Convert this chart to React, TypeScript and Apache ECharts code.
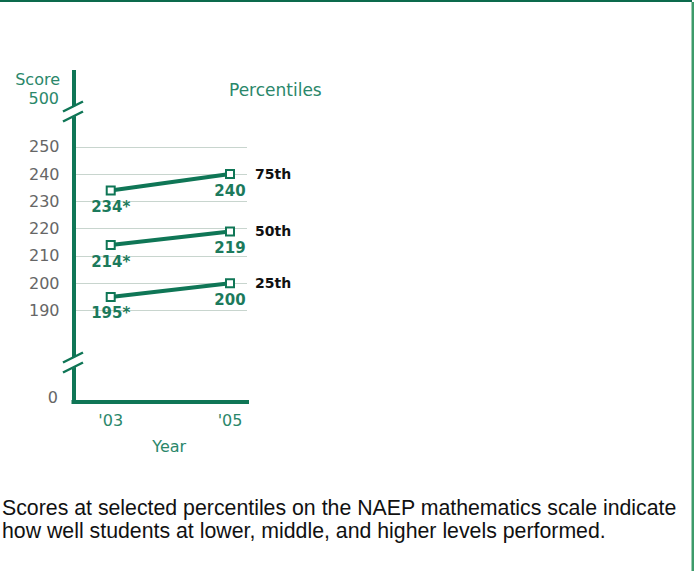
import React, { useEffect, useRef } from 'react';
import * as echarts from 'echarts';

// ---- data ----
const years = [2003, 2005];
const seriesNames = ['75th', '50th', '25th'];
const p75 = [234, 240];
const p50 = [214, 219];
const p25 = [195, 200];
const sigMarks = ['*', '']; // * significantly different from 2005
const yTicks = [190, 200, 210, 220, 230, 240, 250];
const xTicks = [2003, 2005];
const captionLines = [
  'Scores at selected percentiles on the NAEP mathematics scale indicate',
  'how well students at lower, middle, and higher levels performed.',
];

const F = '"DejaVu Sans", sans-serif';
const GREEN = '#0f7656';
const TEXT_GREEN = '#2a876a';
const LABEL_GREEN = '#1c7a5c';
const GRAY = '#666666';

function makeBreak(cy: number) {
  return [
    {
      type: 'polygon',
      z: 100,
      shape: { points: [[64, cy - 0.5], [83, cy - 9.5], [83, cy + 0.5], [64, cy + 9.5]] },
      style: { fill: '#ffffff' },
    },
    {
      type: 'line',
      z: 101,
      shape: { x1: 63, y1: cy - 0.5, x2: 83, y2: cy - 10.5 },
      style: { stroke: GREEN, lineWidth: 2.5 },
    },
    {
      type: 'line',
      z: 101,
      shape: { x1: 63, y1: cy + 9.5, x2: 83, y2: cy - 0.5 },
      style: { stroke: GREEN, lineWidth: 2.5 },
    },
  ];
}

export default function App() {
  const ref = useRef<HTMLDivElement>(null);

  useEffect(() => {
    if (!ref.current) return;
    const chart = echarts.init(ref.current, null, { renderer: 'svg' });

    const mk = (name: string, vals: number[]) => ({
      type: 'line',
      name,
      data: years.map((y, i) => [y, vals[i]]),
      symbol: 'rect',
      symbolSize: 8,
      itemStyle: { color: '#ffffff', borderColor: GREEN, borderWidth: 2 },
      lineStyle: { color: GREEN, width: 4 },
      label: {
        show: true,
        position: 'bottom',
        distance: 4,
        color: LABEL_GREEN,
        fontFamily: F,
        fontWeight: 'bold',
        fontSize: 15,
        formatter: (p: any) => String(p.value[1]) + sigMarks[p.dataIndex],
      },
      endLabel: {
        show: true,
        formatter: '{a}',
        distance: 25,
        color: '#111111',
        fontFamily: F,
        fontWeight: 'bold',
        fontSize: 14,
      },
      z: 3,
    });

    const option: any = {
      animation: false,
      grid: {
        left: 73.5,
        top: 72,
        width: 173.5,
        height: 330,
        containLabel: false,
        outerBoundsMode: 'none',
      },
      xAxis: {
        type: 'value',
        min: 2002.376,
        max: 2005.285,
        axisLine: { show: true, lineStyle: { color: GREEN, width: 4, cap: 'square' } },
        axisTick: { show: false, customValues: xTicks },
        splitLine: { show: false },
        axisLabel: {
          customValues: xTicks,
          margin: 10,
          color: TEXT_GREEN,
          fontFamily: F,
          fontSize: 16,
          formatter: (v: number) => "'" + String(v).slice(2),
        },
        name: 'Year',
        nameLocation: 'middle',
        nameGap: 36,
        nameTextStyle: { color: TEXT_GREEN, fontFamily: F, fontSize: 16, padding: [0, 0, 0, 18] },
      },
      yAxis: {
        type: 'value',
        min: 156.5,
        max: 277.4,
        axisLine: { show: true, lineStyle: { color: GREEN, width: 4, cap: 'square' } },
        axisTick: { show: false, customValues: yTicks },
        splitLine: { show: true, lineStyle: { color: '#c8d5ce', width: 1 } },
        axisLabel: {
          customValues: yTicks,
          margin: 14,
          color: GRAY,
          fontFamily: F,
          fontSize: 16,
        },
      },
      series: [mk(seriesNames[0], p75), mk(seriesNames[1], p50), mk(seriesNames[2], p25)],
      graphic: [
        // frame
        { type: 'rect', z: 100, shape: { x: 0, y: 0, width: 692, height: 2 }, style: { fill: '#0c6a4c' } },
        { type: 'rect', z: 100, shape: { x: 691.5, y: 2, width: 2.5, height: 569 }, style: { fill: '#3d9b6b' } },
        // axis break marks
        ...makeBreak(112),
        ...makeBreak(363),
        // y-axis annotations
        {
          type: 'text', z: 100, x: 60, y: 79,
          style: { text: 'Score', fill: TEXT_GREEN, font: '16px ' + F, align: 'right', verticalAlign: 'middle' },
        },
        {
          type: 'text', z: 100, x: 59, y: 98,
          style: { text: '500', fill: TEXT_GREEN, font: '16px ' + F, align: 'right', verticalAlign: 'middle' },
        },
        {
          type: 'text', z: 100, x: 58, y: 397,
          style: { text: '0', fill: GRAY, font: '16px ' + F, align: 'right', verticalAlign: 'middle' },
        },
        {
          type: 'text', z: 100, x: 229, y: 90,
          style: { text: 'Percentiles', fill: TEXT_GREEN, font: '17px ' + F, align: 'left', verticalAlign: 'middle' },
        },
        // caption
        {
          type: 'text', z: 100, x: 2, y: 496.5,
          style: {
            text: captionLines.join('\n'),
            fill: '#111111',
            font: '21.3px "Liberation Sans", Arial, sans-serif',
            lineHeight: 23,
            align: 'left',
            verticalAlign: 'top',
          },
        },
      ],
    };

    chart.setOption(option);
    return () => chart.dispose();
  }, []);

  return (
    <div
      ref={ref}
      style={{ position: 'absolute', left: 0, top: 0, width: 694, height: 571, background: '#ffffff' }}
    />
  );
}
